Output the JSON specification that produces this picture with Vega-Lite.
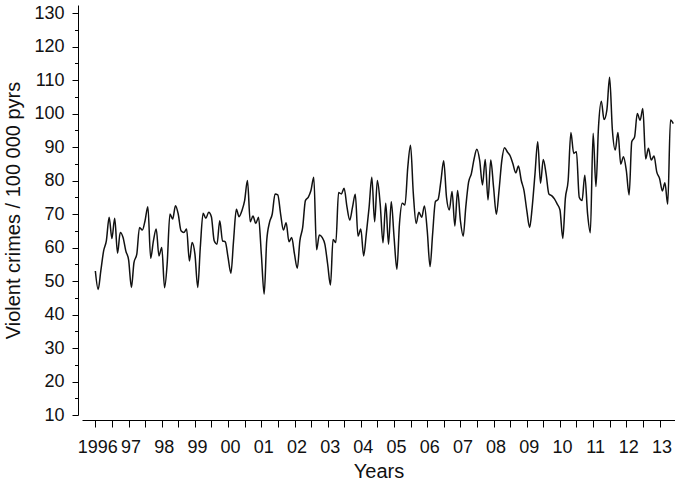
{
  "$schema": "https://vega.github.io/schema/vega-lite/v6.json",
  "autosize": "none",
  "width": 593,
  "height": 410,
  "padding": {"left": 82, "top": 5, "right": 0, "bottom": 66},
  "background": "white",
  "config": {
    "view": {"stroke": null},
    "font": "Liberation Sans",
    "axis": {"domainColor": "#000", "tickColor": "#000", "labelColor": "#111", "titleColor": "#111", "labelFont": "Liberation Sans", "titleFont": "Liberation Sans", "titleFontWeight": "normal", "grid": false, "labelFlush": false, "labelOverlap": false}
  },
  "data": {"values": [
    {"d":"1996-01-01","v":53},{"d":"1996-02-01","v":47.5},{"d":"1996-03-01","v":53},{"d":"1996-04-01","v":59},{"d":"1996-05-01","v":62},{"d":"1996-06-01","v":69},{"d":"1996-07-01","v":62.7},{"d":"1996-08-01","v":68.7},{"d":"1996-09-01","v":58.3},{"d":"1996-10-01","v":64.5},{"d":"1996-11-01","v":63},{"d":"1996-12-01","v":59},
    {"d":"1997-01-01","v":56.3},{"d":"1997-02-01","v":48.1},{"d":"1997-03-01","v":55.5},{"d":"1997-04-01","v":58},{"d":"1997-05-01","v":66},{"d":"1997-06-01","v":65.2},{"d":"1997-07-01","v":68},{"d":"1997-08-01","v":72.2},{"d":"1997-09-01","v":56.8},{"d":"1997-10-01","v":62},{"d":"1997-11-01","v":65.5},{"d":"1997-12-01","v":57.5},
    {"d":"1998-01-01","v":60},{"d":"1998-02-01","v":48},{"d":"1998-03-01","v":55},{"d":"1998-04-01","v":70},{"d":"1998-05-01","v":68.5},{"d":"1998-06-01","v":72.5},{"d":"1998-07-01","v":70},{"d":"1998-08-01","v":65},{"d":"1998-09-01","v":64.5},{"d":"1998-10-01","v":65.5},{"d":"1998-11-01","v":56},{"d":"1998-12-01","v":61.5},
    {"d":"1999-01-01","v":58},{"d":"1999-02-01","v":48.1},{"d":"1999-03-01","v":60},{"d":"1999-04-01","v":70.2},{"d":"1999-05-01","v":68.7},{"d":"1999-06-01","v":70.5},{"d":"1999-07-01","v":69.2},{"d":"1999-08-01","v":62},{"d":"1999-09-01","v":61},{"d":"1999-10-01","v":68},{"d":"1999-11-01","v":62},{"d":"1999-12-01","v":61.7},
    {"d":"2000-01-01","v":57},{"d":"2000-02-01","v":52.3},{"d":"2000-03-01","v":62},{"d":"2000-04-01","v":71.4},{"d":"2000-05-01","v":69.2},{"d":"2000-06-01","v":71},{"d":"2000-07-01","v":74},{"d":"2000-08-01","v":80},{"d":"2000-09-01","v":67.7},{"d":"2000-10-01","v":69.4},{"d":"2000-11-01","v":67.2},{"d":"2000-12-01","v":69},
    {"d":"2001-01-01","v":58},{"d":"2001-02-01","v":46.1},{"d":"2001-03-01","v":62},{"d":"2001-04-01","v":67.5},{"d":"2001-05-01","v":70},{"d":"2001-06-01","v":76},{"d":"2001-07-01","v":75.7},{"d":"2001-08-01","v":70},{"d":"2001-09-01","v":65.2},{"d":"2001-10-01","v":67.4},{"d":"2001-11-01","v":61.7},{"d":"2001-12-01","v":63},
    {"d":"2002-01-01","v":58},{"d":"2002-02-01","v":53.8},{"d":"2002-03-01","v":62},{"d":"2002-04-01","v":66},{"d":"2002-05-01","v":74},{"d":"2002-06-01","v":75},{"d":"2002-07-01","v":77},{"d":"2002-08-01","v":81},{"d":"2002-09-01","v":59.3},{"d":"2002-10-01","v":63.7},{"d":"2002-11-01","v":63},{"d":"2002-12-01","v":61},
    {"d":"2003-01-01","v":55},{"d":"2003-02-01","v":48.8},{"d":"2003-03-01","v":62.4},{"d":"2003-04-01","v":61.5},{"d":"2003-05-01","v":76.4},{"d":"2003-06-01","v":76},{"d":"2003-07-01","v":77.7},{"d":"2003-08-01","v":72.2},{"d":"2003-09-01","v":68.2},{"d":"2003-10-01","v":72},{"d":"2003-11-01","v":75.9},{"d":"2003-12-01","v":63.4},
    {"d":"2004-01-01","v":65.5},{"d":"2004-02-01","v":57.5},{"d":"2004-03-01","v":64},{"d":"2004-04-01","v":72},{"d":"2004-05-01","v":81},{"d":"2004-06-01","v":67.7},{"d":"2004-07-01","v":80},{"d":"2004-08-01","v":73},{"d":"2004-09-01","v":61.4},{"d":"2004-10-01","v":73.2},{"d":"2004-11-01","v":61},{"d":"2004-12-01","v":73.7},
    {"d":"2005-01-01","v":63},{"d":"2005-02-01","v":53.5},{"d":"2005-03-01","v":67},{"d":"2005-04-01","v":73.2},{"d":"2005-05-01","v":72.7},{"d":"2005-06-01","v":84},{"d":"2005-07-01","v":90.5},{"d":"2005-08-01","v":76},{"d":"2005-09-01","v":67.2},{"d":"2005-10-01","v":70.5},{"d":"2005-11-01","v":69},{"d":"2005-12-01","v":72.4},
    {"d":"2006-01-01","v":65},{"d":"2006-02-01","v":54.3},{"d":"2006-03-01","v":64},{"d":"2006-04-01","v":73.7},{"d":"2006-05-01","v":74.4},{"d":"2006-06-01","v":80},{"d":"2006-07-01","v":85.9},{"d":"2006-08-01","v":75},{"d":"2006-09-01","v":71.2},{"d":"2006-10-01","v":76.7},{"d":"2006-11-01","v":66.4},{"d":"2006-12-01","v":77},
    {"d":"2007-01-01","v":68},{"d":"2007-02-01","v":63.4},{"d":"2007-03-01","v":72},{"d":"2007-04-01","v":79.5},{"d":"2007-05-01","v":82},{"d":"2007-06-01","v":86.5},{"d":"2007-07-01","v":89.3},{"d":"2007-08-01","v":86},{"d":"2007-09-01","v":78.7},{"d":"2007-10-01","v":86.3},{"d":"2007-11-01","v":74.2},{"d":"2007-12-01","v":86.1},
    {"d":"2008-01-01","v":78},{"d":"2008-02-01","v":69.9},{"d":"2008-03-01","v":77},{"d":"2008-04-01","v":86},{"d":"2008-05-01","v":89.8},{"d":"2008-06-01","v":88.5},{"d":"2008-07-01","v":87.4},{"d":"2008-08-01","v":85},{"d":"2008-09-01","v":82.3},{"d":"2008-10-01","v":84.3},{"d":"2008-11-01","v":80},{"d":"2008-12-01","v":77},
    {"d":"2009-01-01","v":71},{"d":"2009-02-01","v":66},{"d":"2009-03-01","v":72},{"d":"2009-04-01","v":82},{"d":"2009-05-01","v":91.6},{"d":"2009-06-01","v":79.2},{"d":"2009-07-01","v":86.3},{"d":"2009-08-01","v":82},{"d":"2009-09-01","v":76},{"d":"2009-10-01","v":75.5},{"d":"2009-11-01","v":74.5},{"d":"2009-12-01","v":73},
    {"d":"2010-01-01","v":71.2},{"d":"2010-02-01","v":62.7},{"d":"2010-03-01","v":74.6},{"d":"2010-04-01","v":80},{"d":"2010-05-01","v":94.3},{"d":"2010-06-01","v":88.1},{"d":"2010-07-01","v":88.6},{"d":"2010-08-01","v":75},{"d":"2010-09-01","v":74},{"d":"2010-10-01","v":81.6},{"d":"2010-11-01","v":70},{"d":"2010-12-01","v":64.4},
    {"d":"2011-01-01","v":94.1},{"d":"2011-02-01","v":78.2},{"d":"2011-03-01","v":96},{"d":"2011-04-01","v":103.7},{"d":"2011-05-01","v":98.2},{"d":"2011-06-01","v":101},{"d":"2011-07-01","v":110.8},{"d":"2011-08-01","v":95},{"d":"2011-09-01","v":89.1},{"d":"2011-10-01","v":94.3},{"d":"2011-11-01","v":84.9},{"d":"2011-12-01","v":87.1},
    {"d":"2012-01-01","v":83},{"d":"2012-02-01","v":75.7},{"d":"2012-03-01","v":91.6},{"d":"2012-04-01","v":93},{"d":"2012-05-01","v":100},{"d":"2012-06-01","v":98},{"d":"2012-07-01","v":101.5},{"d":"2012-08-01","v":86.4},{"d":"2012-09-01","v":89.6},{"d":"2012-10-01","v":86.1},{"d":"2012-11-01","v":87.3},{"d":"2012-12-01","v":82.6},
    {"d":"2013-01-01","v":80.6},{"d":"2013-02-01","v":76.9},{"d":"2013-03-01","v":79.3},{"d":"2013-04-01","v":72.9},{"d":"2013-05-01","v":98.1},{"d":"2013-06-01","v":97}
  ]},
  "mark": {"type": "line", "interpolate": "monotone", "color": "#111", "strokeWidth": 1.5},
  "encoding": {
    "x": {
      "field": "d", "type": "temporal",
      "scale": {"type": "utc", "domain": [{"year": 1995, "month": 8, "date": 7, "utc": true}, {"year": 2013, "month": 6, "date": 20, "utc": true}]},
      "axis": {
        "title": "Years", "titleFontSize": 20, "titlePadding": 5,
        "offset": 5, "tickSize": 7, "labelFontSize": 18, "labelPadding": 11, "labelOffset": 2,
        "values": [
          {"year":1996,"month":1,"utc":true},{"year":1996,"month":7,"utc":true},
          {"year":1997,"month":1,"utc":true},{"year":1997,"month":7,"utc":true},
          {"year":1998,"month":1,"utc":true},{"year":1998,"month":7,"utc":true},
          {"year":1999,"month":1,"utc":true},{"year":1999,"month":7,"utc":true},
          {"year":2000,"month":1,"utc":true},{"year":2000,"month":7,"utc":true},
          {"year":2001,"month":1,"utc":true},{"year":2001,"month":7,"utc":true},
          {"year":2002,"month":1,"utc":true},{"year":2002,"month":7,"utc":true},
          {"year":2003,"month":1,"utc":true},{"year":2003,"month":7,"utc":true},
          {"year":2004,"month":1,"utc":true},{"year":2004,"month":7,"utc":true},
          {"year":2005,"month":1,"utc":true},{"year":2005,"month":7,"utc":true},
          {"year":2006,"month":1,"utc":true},{"year":2006,"month":7,"utc":true},
          {"year":2007,"month":1,"utc":true},{"year":2007,"month":7,"utc":true},
          {"year":2008,"month":1,"utc":true},{"year":2008,"month":7,"utc":true},
          {"year":2009,"month":1,"utc":true},{"year":2009,"month":7,"utc":true},
          {"year":2010,"month":1,"utc":true},{"year":2010,"month":7,"utc":true},
          {"year":2011,"month":1,"utc":true},{"year":2011,"month":7,"utc":true},
          {"year":2012,"month":1,"utc":true},{"year":2012,"month":7,"utc":true},
          {"year":2013,"month":1,"utc":true}
        ],
        "labelExpr": "utcmonth(datum.value) == 0 ? (utcyear(datum.value) == 1996 ? '1996' : utcFormat(datum.value, '%y')) : ''"
      }
    },
    "y": {
      "field": "v", "type": "quantitative",
      "scale": {"domain": [10, 132.4], "nice": false, "zero": false},
      "axis": {
        "title": "Violent crimes / 100 000 pyrs", "titleFontSize": 20, "titlePadding": 10,
        "offset": 4, "labelFontSize": 18, "labelPadding": 8,
        "tickSize": {"condition": {"test": "datum.value % 10 == 0", "value": 6}, "value": 3.5},
        "values": [10,15,20,25,30,35,40,45,50,55,60,65,70,75,80,85,90,95,100,105,110,115,120,125,130],
        "labelExpr": "datum.value % 10 == 0 ? datum.label : ''"
      }
    }
  }
}
